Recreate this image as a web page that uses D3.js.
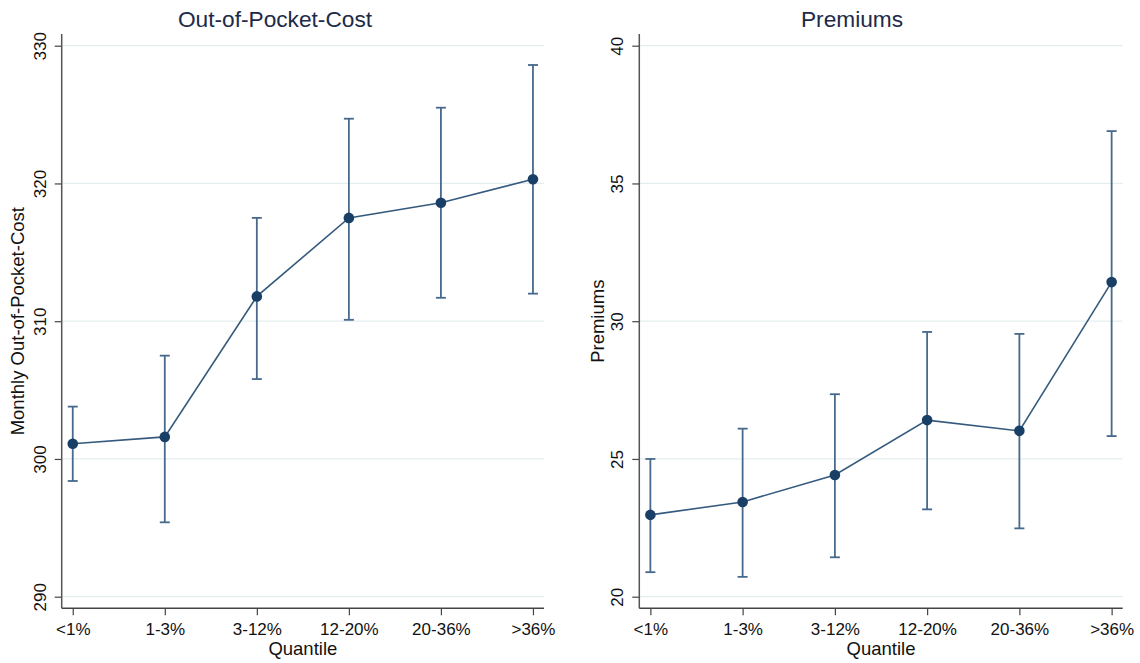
<!DOCTYPE html>
<html>
<head>
<meta charset="utf-8">
<script src="https://cdn.jsdelivr.net/npm/d3@7"></script>
<style>
  body { margin: 0; background: #fff; }
  svg { display: block; font-family: "Liberation Sans", Arial, Helvetica, sans-serif; }
  .tick text { fill: #111; }
</style>
</head>
<body>
<svg width="1140" height="663"></svg>
<script>
// categories (quantile groups)
const quantiles = ["<1%", "1-3%", "3-12%", "12-20%", "20-36%", ">36%"];

// Out-of-pocket cost: mean and 95% interval
const oopMean  = [301.1, 301.6, 311.8, 317.5, 318.6, 320.3];
const oopLow   = [298.4, 295.4, 305.8, 310.1, 311.7, 312.0];
const oopHigh  = [303.8, 307.5, 317.5, 324.7, 325.5, 328.6];
const oopTicks = [290, 300, 310, 320, 330];

// Premiums: mean and 95% interval
const premMean  = [22.97, 23.44, 24.42, 26.41, 26.02, 31.42];
const premLow   = [20.89, 20.72, 21.43, 23.17, 22.48, 25.83];
const premHigh  = [25.0, 26.1, 27.35, 29.61, 29.54, 36.9];
const premTicks = [20, 25, 30, 35, 40];

const svg = d3.select("svg");

function panel(opt) {
  const g = svg.append("g");

  const x = d3.scalePoint()
    .domain(quantiles)
    .range([opt.x0, opt.x1])
    .padding(0.12);

  const y = d3.scaleLinear()
    .domain(d3.extent(opt.ticks))
    .range([596.7, 45.7]);

  // horizontal grid
  g.selectAll(".grid")
    .data(opt.ticks)
    .enter().append("line")
    .attr("x1", opt.x0).attr("x2", opt.x1)
    .attr("y1", d => y(d)).attr("y2", d => y(d))
    .attr("stroke", "#e4eeee")
    .attr("stroke-width", 1.3);

  // y axis
  const ya = g.append("g")
    .attr("transform", `translate(${opt.x0},0)`)
    .call(d3.axisLeft(y).tickValues(opt.ticks).tickSize(7).tickSizeOuter(0));
  ya.select(".domain").remove();
  ya.selectAll(".tick line").attr("stroke", "#444").attr("stroke-width", 1.2);
  ya.selectAll(".tick text")
    .attr("x", 0).attr("dy", 0)
    .attr("transform", "translate(-16,0) rotate(-90)")
    .attr("text-anchor", "middle")
    .style("font-size", "17px")
    .style("font-family", "inherit");

  // x axis
  const xa = g.append("g")
    .attr("transform", "translate(0,608.3)")
    .call(d3.axisBottom(x).tickSize(7).tickSizeOuter(0));
  xa.select(".domain").remove();
  xa.selectAll(".tick line").attr("stroke", "#444").attr("stroke-width", 1.2);
  xa.selectAll(".tick text")
    .attr("y", 27).attr("dy", 0)
    .style("font-size", "17px")
    .style("font-family", "inherit");

  // axis lines
  g.append("line")
    .attr("x1", opt.x0).attr("x2", opt.x0)
    .attr("y1", 34).attr("y2", 608.3)
    .attr("stroke", "#555").attr("stroke-width", 1.5);
  g.append("line")
    .attr("x1", opt.x0).attr("x2", opt.x1)
    .attr("y1", 608.3).attr("y2", 608.3)
    .attr("stroke", "#444").attr("stroke-width", 1.5);

  const pts = quantiles.map((q, i) => ({q, m: opt.mean[i], lo: opt.low[i], hi: opt.high[i]}));

  // error bars
  const bars = g.selectAll(".bar").data(pts).enter().append("g")
    .attr("stroke", "#46698c").attr("stroke-width", 1.8);
  bars.append("line")
    .attr("x1", d => x(d.q)).attr("x2", d => x(d.q))
    .attr("y1", d => y(d.lo)).attr("y2", d => y(d.hi));
  bars.append("line")
    .attr("x1", d => x(d.q) - 5).attr("x2", d => x(d.q) + 5)
    .attr("y1", d => y(d.lo)).attr("y2", d => y(d.lo));
  bars.append("line")
    .attr("x1", d => x(d.q) - 5).attr("x2", d => x(d.q) + 5)
    .attr("y1", d => y(d.hi)).attr("y2", d => y(d.hi));

  // connecting line
  g.append("path")
    .datum(pts)
    .attr("fill", "none")
    .attr("stroke", "#355a7e")
    .attr("stroke-width", 1.6)
    .attr("d", d3.line().x(d => x(d.q)).y(d => y(d.m)));

  // markers
  g.selectAll(".pt").data(pts).enter().append("circle")
    .attr("cx", d => x(d.q)).attr("cy", d => y(d.m))
    .attr("r", 5.3)
    .attr("fill", "#1a3f66");

  // titles
  g.append("text")
    .attr("x", opt.titleX).attr("y", 27)
    .attr("text-anchor", "middle")
    .style("font-size", "22.7px")
    .attr("fill", "#1c2a48")
    .text(opt.title);

  g.append("text")
    .attr("x", (opt.x0 + opt.x1) / 2).attr("y", 655)
    .attr("text-anchor", "middle")
    .style("font-size", "18.5px")
    .attr("fill", "#111")
    .text("Quantile");

  g.append("text")
    .attr("transform", `translate(${opt.yTitleX},${y(d3.mean(d3.extent(opt.ticks)))}) rotate(-90)`)
    .attr("text-anchor", "middle")
    .style("font-size", "18.5px")
    .attr("fill", "#111")
    .text(opt.yTitle);
}

panel({
  x0: 61.7, x1: 544, ticks: oopTicks,
  mean: oopMean, low: oopLow, high: oopHigh,
  title: "Out-of-Pocket-Cost", titleX: 275,
  yTitle: "Monthly Out-of-Pocket-Cost", yTitleX: 24
});

panel({
  x0: 639.3, x1: 1122.7, ticks: premTicks,
  mean: premMean, low: premLow, high: premHigh,
  title: "Premiums", titleX: 852,
  yTitle: "Premiums", yTitleX: 604
});
</script>
</body>
</html>
